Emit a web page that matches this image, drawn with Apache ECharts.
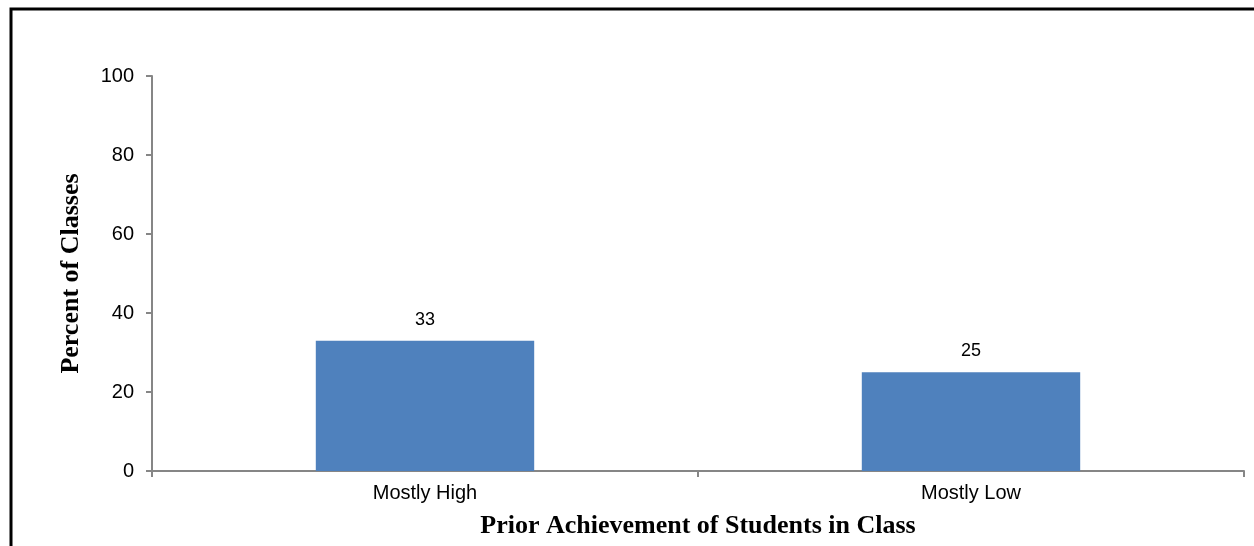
<!DOCTYPE html>
<html>
<head>
<meta charset="utf-8">
<script src="https://cdn.jsdelivr.net/npm/echarts@6/dist/echarts.min.js"></script>
<style>
  html, body { margin: 0; padding: 0; background: #fff; }
  #chart { width: 1254px; height: 546px; }
</style>
</head>
<body>
<div id="chart"></div>
<script>
// data
const categories = ['Mostly High', 'Mostly Low'];
const percentOfClasses = [33, 25];
const yTicks = { min: 0, max: 100, step: 20 };

const axisGray = '#868686';
const chart = echarts.init(document.getElementById('chart'));

const option = {
  animation: false,
  backgroundColor: '#fff',
  graphic: [
    {
      // frame: only the left and top edges are visible in the picture
      type: 'rect',
      shape: { x: 11, y: 9, width: 1260, height: 560 },
      style: { fill: 'none', stroke: '#000', lineWidth: 3 },
      silent: true
    }
  ],
  grid: { left: 152, right: 10, top: 76, bottom: 75 },
  xAxis: {
    type: 'category',
    data: categories,
    name: 'Prior Achievement of Students in Class',
    nameLocation: 'middle',
    nameGap: 42,
    nameTextStyle: { fontFamily: 'Liberation Serif', fontWeight: 'bold', fontSize: 26, color: '#000' },
    axisLine: { lineStyle: { color: axisGray, width: 2 } },
    axisTick: { show: true, alignWithLabel: false, length: 6, lineStyle: { color: axisGray, width: 2 } },
    axisLabel: { fontFamily: 'Liberation Sans', fontSize: 20, color: '#000', margin: 12 }
  },
  yAxis: {
    type: 'value',
    min: yTicks.min,
    max: yTicks.max,
    interval: yTicks.step,
    name: 'Percent of Classes',
    nameLocation: 'middle',
    nameGap: 68,
    nameTextStyle: { fontFamily: 'Liberation Serif', fontWeight: 'bold', fontSize: 26, color: '#000' },
    axisLine: { show: true, lineStyle: { color: axisGray, width: 2 } },
    axisTick: { show: true, length: 6, lineStyle: { color: axisGray, width: 2 } },
    axisLabel: { fontFamily: 'Liberation Sans', fontSize: 20, color: '#000', margin: 18 },
    splitLine: { show: false }
  },
  series: [
    {
      type: 'bar',
      data: percentOfClasses,
      barWidth: '40%',
      itemStyle: { color: '#4F81BD' },
      label: {
        show: true,
        position: 'top',
        distance: 12,
        fontFamily: 'Liberation Sans',
        fontSize: 18,
        color: '#000'
      }
    }
  ]
};

chart.setOption(option);
</script>
</body>
</html>
